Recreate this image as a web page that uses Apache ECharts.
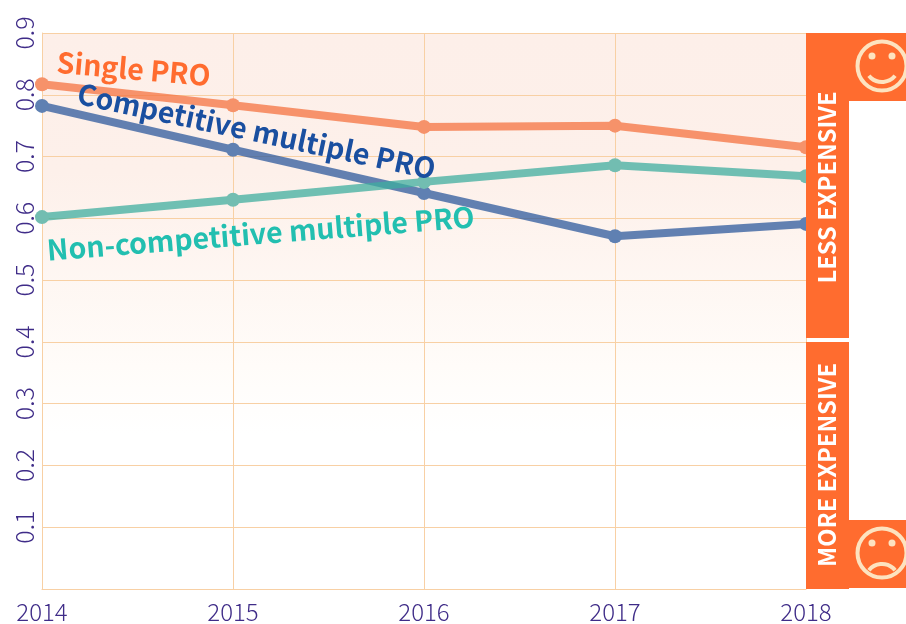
<!DOCTYPE html>
<html>
<head>
<meta charset="utf-8">
<style>html,body{margin:0;padding:0;background:#fff}#main{width:906px;height:624px}</style>
<script src="https://cdn.jsdelivr.net/npm/echarts@6/dist/echarts.min.js"></script>
</head>
<body>
<div id="main"></div>
<script>
const years = ["2014", "2015", "2016", "2017", "2018"];
const singlePro = [0.817, 0.783, 0.748, 0.75, 0.715];
const competitivePro = [0.782, 0.711, 0.641, 0.571, 0.591];
const nonCompetitivePro = [0.602, 0.63, 0.659, 0.686, 0.668];
const yTicks = ["0.1", "0.2", "0.3", "0.4", "0.5", "0.6", "0.7", "0.8", "0.9"];

const ORANGE = "#ff6c2f";
const CREAM = "#fde3c0";
const GRID = "#f8d0a4";
const TICK = "#3f2c88";
const SANS = '"Noto Sans CJK SC", "Noto Sans", sans-serif';

function lineSeries(name, data, color, dotColor) {
  return {
    name: name,
    type: "line",
    data: data,
    symbol: "circle",
    symbolSize: 14,
    z: 3,
    clip: false,
    lineStyle: { color: color, width: 8, opacity: 0.75 },
    itemStyle: { color: dotColor },
    emphasis: { disabled: true }
  };
}

function label(text, x, y, deg, color) {
  return {
    type: "text",
    x: x,
    y: y,
    rotation: deg * Math.PI / 180,
    z: 20,
    style: { text: text, fill: color, font: "bold 28.5px " + SANS, textVerticalAlign: "middle" }
  };
}

function face(cy, smile) {
  const cx = 882;
  const mouth = smile
    ? { cx: cx, cy: cy - 1, r: 17, startAngle: Math.PI * 0.22, endAngle: Math.PI * 0.78 }
    : { cx: cx, cy: cy + 28, r: 17, startAngle: Math.PI * 1.22, endAngle: Math.PI * 1.78 };
  return [
    { type: "circle", z: 12, shape: { cx: cx, cy: cy, r: 24.5 }, style: { fill: "none", stroke: CREAM, lineWidth: 4 } },
    { type: "circle", z: 12, shape: { cx: cx - 10, cy: cy - 10, r: 3.5 }, style: { fill: CREAM } },
    { type: "circle", z: 12, shape: { cx: cx + 10, cy: cy - 10, r: 3.5 }, style: { fill: CREAM } },
    { type: "arc", z: 12, shape: mouth, style: { fill: "none", stroke: CREAM, lineWidth: 4 } }
  ];
}

const chart = echarts.init(document.getElementById("main"));
chart.setOption({
  animation: false,
  grid: {
    left: 42,
    right: 100,
    top: 33,
    bottom: 35,
    show: true,
    borderWidth: 0,
    backgroundColor: {
      type: "linear", x: 0, y: 0, x2: 0, y2: 1,
      colorStops: [
        { offset: 0, color: "#fdefe9" },
        { offset: 0.25, color: "#fdf0ea" },
        { offset: 0.6, color: "#fffcf9" },
        { offset: 0.72, color: "#ffffff" }
      ]
    }
  },
  xAxis: {
    type: "category",
    data: years,
    boundaryGap: false,
    axisLine: { lineStyle: { color: GRID, width: 1 } },
    axisTick: { show: false },
    splitLine: { show: true, lineStyle: { color: GRID, width: 1 } },
    axisLabel: { color: TICK, fontSize: 24, fontFamily: SANS, fontWeight: 300, margin: 11 }
  },
  yAxis: {
    type: "value",
    min: 0,
    max: 0.9,
    interval: 0.1,
    axisLine: { show: true, lineStyle: { color: GRID, width: 1 } },
    axisTick: { show: false },
    splitLine: { lineStyle: { color: GRID, width: 1 } },
    axisLabel: {
      color: TICK,
      fontSize: 25,
      fontFamily: SANS,
      fontWeight: 300,
      rotate: 90,
      margin: 5,
      formatter: v => (yTicks.includes(v.toFixed(1)) ? v.toFixed(1) : "")
    }
  },
  series: [
    lineSeries("Single PRO", singlePro, "#f47340", "#f6926a"),
    lineSeries("Competitive multiple PRO", competitivePro, "#2d5a9c", "#5f80b2"),
    lineSeries("Non-competitive multiple PRO", nonCompetitivePro, "#3fae9f", "#72bdb1")
  ],
  graphic: [
    { type: "rect", z: 10, shape: { x: 806, y: 33, width: 43, height: 305 }, style: { fill: ORANGE } },
    { type: "rect", z: 10, shape: { x: 849, y: 33, width: 57, height: 68 }, style: { fill: ORANGE } },
    { type: "rect", z: 10, shape: { x: 806, y: 342, width: 43, height: 247 }, style: { fill: ORANGE } },
    { type: "rect", z: 10, shape: { x: 849, y: 520, width: 57, height: 68 }, style: { fill: ORANGE } },
    ...face(66, true),
    ...face(553, false),
    {
      type: "text", x: 827, y: 187.5, rotation: Math.PI / 2, z: 12,
      style: { text: "LESS EXPENSIVE", fill: "#fff", font: "bold 23.7px " + SANS, textAlign: "center", textVerticalAlign: "middle" }
    },
    {
      type: "text", x: 827, y: 465, rotation: Math.PI / 2, z: 12,
      style: { text: "MORE EXPENSIVE", fill: "#fff", font: "bold 23.7px " + SANS, textAlign: "center", textVerticalAlign: "middle" }
    },
    label("Single PRO", 57, 62, -5, "#ff6c2f"),
    label("Competitive multiple PRO", 78, 93, -12, "#1a4fa0"),
    label("Non-competitive multiple PRO", 47, 250, 4.5, "#22bfb0")
  ]
});
</script>
</body>
</html>
